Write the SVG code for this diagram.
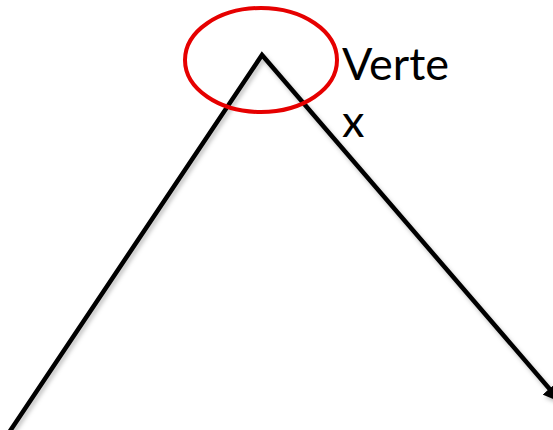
<svg xmlns="http://www.w3.org/2000/svg" width="553" height="430" viewBox="0 0 553 430">
<style>
.edge{fill:none;stroke:#000;stroke-width:4.5;stroke-linejoin:miter;filter:url(#sh)}
.lbl{font-family:"Lato","Liberation Sans",sans-serif;font-size:45px;fill:#000}
.ring{fill:none;stroke:#e60000;stroke-width:4}
</style>
<defs>
<filter id="sh" x="-10%" y="-10%" width="120%" height="120%">
<feDropShadow dx="2" dy="3" stdDeviation="2" flood-color="#000" flood-opacity="0.25"/>
</filter>
<marker id="arr" viewBox="0 0 10 10" refX="9" refY="5" markerWidth="4" markerHeight="4" orient="auto" markerUnits="strokeWidth">
<path d="M0,0 L10,5 L0,10 z" fill="#000"/>
</marker>
</defs>
<g id="connectors">
<path class="edge" d="M8,434 L262,55 L560,401" marker-start="url(#arr)" marker-end="url(#arr)"/>
</g>
<g id="vertex-highlight">
<ellipse class="ring" cx="261" cy="60" rx="76" ry="52"/>
</g>
<g id="label">
<text class="lbl" x="342" y="80">Verte</text>
<text class="lbl" x="342" y="137">x</text>
</g>
</svg>
